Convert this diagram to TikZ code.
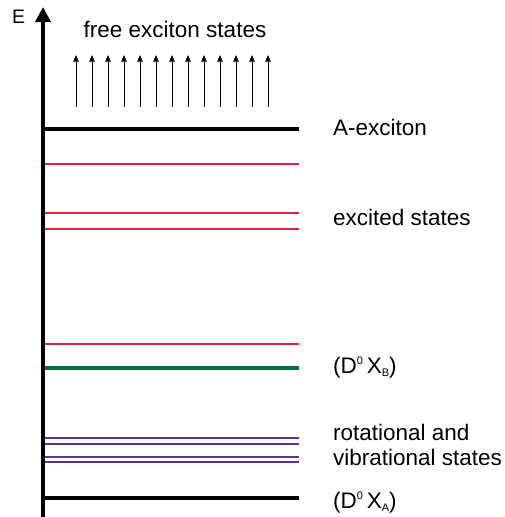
\documentclass[tikz,border=0pt]{standalone}
\usepackage{fontspec}
\setmainfont{Liberation Sans}
\usetikzlibrary{arrows.meta,positioning}
\definecolor{LvlRed}{RGB}{228,32,70}
\definecolor{LvlGreen}{RGB}{0,110,52}
\definecolor{LvlViolet}{RGB}{88,50,150}
\newcommand{\lvlsup}[1]{\raisebox{9pt}{\fontsize{11}{11}\selectfont #1}}
\newcommand{\lvlsub}[1]{\raisebox{-3pt}{\fontsize{11}{11}\selectfont #1}}

\begin{document}
\begin{tikzpicture}[x=1pt,y=-1pt,>=Triangle]
    \tikzset{mainlvl/.style={line width=4.5pt},
      redlvl/.style={LvlRed,line width=1.3pt},
      greenlvl/.style={LvlGreen,line width=4.5pt},
      violetlvl/.style={LvlViolet,line width=1.5pt},
      lbl/.style={anchor=base west,inner sep=0pt,align=left,font=\fontsize{22.5}{25}\selectfont}}
    \useasboundingbox (0,0) rectangle (504,517);
    % energy levels
    \foreach \y/\s [count=\i] in {129/mainlvl,164/redlvl,213/redlvl,229/redlvl,344/redlvl,368/greenlvl,438/violetlvl,444/violetlvl,457/violetlvl,462/violetlvl,498/mainlvl}{
      \coordinate (l\i) at (43,\y);
      \coordinate (r\i) at (299,\y);
      \draw[\s] (l\i) -- (r\i);
    }
    % energy axis
    \coordinate (base) at (43,517);
    \coordinate (top) at (43,7);
    \draw[line width=4.5pt,-{Triangle[length=15pt,width=15pt]}] (base) -- (top);
    \node[anchor=base west,inner sep=0pt,font=\fontsize{19.5}{20}\selectfont] (E) at (12,23) {E};
    % continuum
    \foreach \i in {0,...,12}{
      \coordinate (c\i) at (76+16*\i,107);
      \coordinate (d\i) at (76+16*\i,55);
      \draw[line width=1pt,-{Triangle[length=6.5pt,width=5.5pt]}] (c\i) -- (d\i);
    }
    \node[anchor=base,inner sep=0pt,font=\fontsize{22.5}{25}\selectfont] (free) at (175,37) {free exciton states};
    \node[lbl] (Aex) at (333,135) {A-exciton};
    \node[lbl] (exc) at (333,225) {excited states};
    \node[lbl] (DXB) at (333,373) {(D\lvlsup{0}\,X\lvlsub{B})};
    \node[lbl] (rot) at (333,465) {rotational and\\vibrational states};
    \node[lbl] (DXA) at (333,508) {(D\lvlsup{0}\,X\lvlsub{A})};
  \end{tikzpicture}
\end{document}
